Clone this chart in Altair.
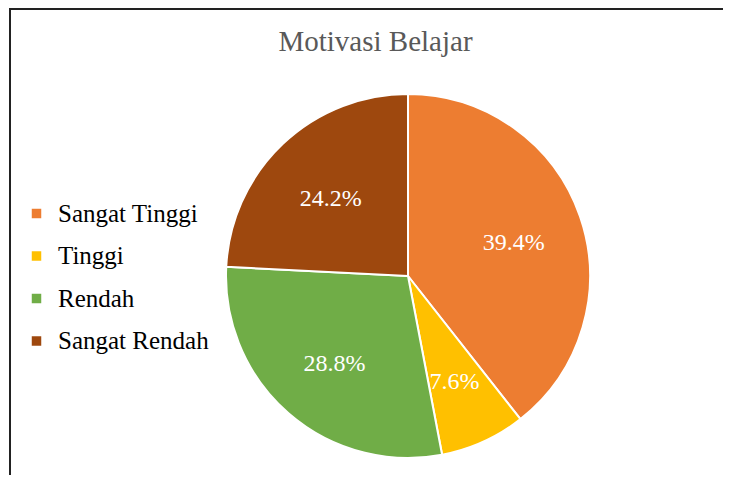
import altair as alt
import pandas as pd

categories = ["Sangat Tinggi", " Tinggi", "Rendah", "Sangat Rendah"]
values = [39.4, 7.6, 28.8, 24.2]
labels = ["39.4%", "7.6%", "28.8%", "24.2%"]
colors = ["#ED7D31", "#FFC000", "#70AD47", "#9E480E"]

df = pd.DataFrame({"cat": categories, "val": values, "lab": labels, "order": [0, 1, 2, 3]})

FONT = "Liberation Serif"
CX, CY = 400, 268

base = alt.Chart(df).encode(
    theta=alt.Theta("val:Q", stack=True),
    order=alt.Order("order:Q"),
)

pie = base.mark_arc(outerRadius=182, stroke="white", strokeWidth=2).encode(
    x=alt.value(CX),
    y=alt.value(CY),
    color=alt.Color(
        "cat:N",
        sort=categories,
        scale=alt.Scale(domain=categories, range=colors),
        legend=alt.Legend(
            title=None,
            orient="none",
            legendX=16,
            legendY=193,
            symbolType="square",
            symbolSize=90,
            symbolStrokeWidth=0,
            labelFont=FONT,
            labelFontSize=25,
            labelColor="#000000",
            labelOffset=9,
            rowPadding=16.5,
        ),
    ),
)

text = base.mark_text(radius=112, font=FONT, fontSize=24, color="white").encode(
    x=alt.value(CX),
    y=alt.value(CY + 4),
    text="lab:N",
)

frame_top = alt.Chart(df).mark_rule(color="#222222", strokeWidth=2).encode(
    x=alt.value(2), x2=alt.value(800), y=alt.value(1)
)
frame_left = alt.Chart(df).mark_rule(color="#222222", strokeWidth=2).encode(
    x=alt.value(2), y=alt.value(0), y2=alt.value(600)
)

chart = (
    alt.layer(pie, text, frame_top, frame_left)
    .properties(
        width=715,
        height=467,
        padding=0,
        autosize=alt.AutoSizeParams(type="none"),
        title=alt.TitleParams(
            "Motivasi Belajar",
            font=FONT,
            fontSize=29,
            fontWeight="normal",
            color="#595959",
            anchor="middle",
            dx=10,
            dy=54,
        ),
    )
    .configure(font=FONT)
    .configure_text(font=FONT)
    .configure_view(stroke=None)
)

chart.save("out.html", embed_options={"renderer": "svg", "actions": False})
